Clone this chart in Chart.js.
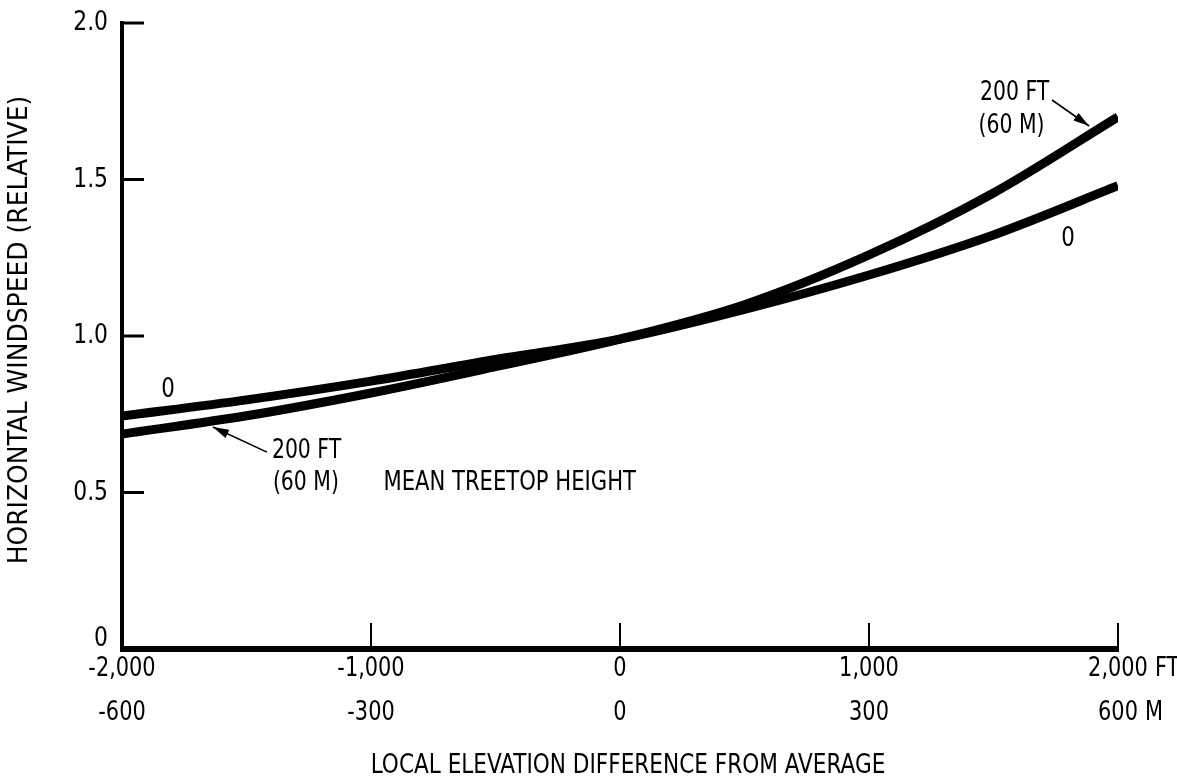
<!DOCTYPE html>
<html>
<head>
<meta charset="utf-8">
<title>Horizontal windspeed vs local elevation</title>
<script src="https://cdn.jsdelivr.net/npm/chart.js@4.4.1/dist/chart.umd.min.js"></script>
<style>
  html, body { margin: 0; padding: 0; background: #ffffff; }
  #wrap { width: 1177px; height: 779px; }
</style>
</head>
<body>
<div id="wrap"><canvas id="c" width="1177" height="779"></canvas></div>
<script>
// Local elevation difference from average (ft)
const elevationFt = [-2000, -1500, -1000, -500, 0, 500, 1000, 1500, 2000];
// Relative horizontal windspeed at ground level (height 0)
const windAtGround = [0.744, 0.796, 0.856, 0.925, 0.99, 1.085, 1.195, 1.323, 1.48];
// Relative horizontal windspeed at 200 ft (60 m), mean treetop height
const windAt200ft = [0.687, 0.745, 0.818, 0.902, 0.99, 1.10, 1.259, 1.457, 1.70];

// Axis tick values and labels
const xTickValues = [-2000, -1000, 0, 1000, 2000];
const xTickFt = ['-2,000', '-1,000', '0', '1,000', '2,000'];
const xTickM = ['-600', '-300', '0', '300', '600'];
const yTickValues = [0, 0.5, 1.0, 1.5, 2.0];
const yTickLabels = ['0', '0.5', '1.0', '1.5', '2.0'];

const FONT = '"Liberation Sans Narrow", "DejaVu Sans Condensed", "Arial Narrow", sans-serif';
const INK = '#000000';

function pts(xs, ys) { return xs.map((x, i) => ({ x: x, y: ys[i] })); }

// condensed lettering: draw text squeezed horizontally by sx
function text(ctx, s, x, y, size, align, sx) {
  sx = sx || 0.88;
  ctx.save();
  ctx.translate(x, y);
  ctx.scale(sx, 1);
  ctx.font = size + 'px ' + FONT;
  ctx.textAlign = align || 'center';
  ctx.textBaseline = 'middle';
  ctx.fillText(s, 0, 0);
  ctx.restore();
}
function textWidth(ctx, s, size, sx) {
  ctx.font = size + 'px ' + FONT;
  return ctx.measureText(s).width * (sx || 0.88);
}

function arrow(ctx, x1, y1, x2, y2) {
  ctx.beginPath();
  ctx.moveTo(x1, y1);
  ctx.lineTo(x2, y2);
  ctx.lineWidth = 1.6;
  ctx.stroke();
  const a = Math.atan2(y2 - y1, x2 - x1);
  const L = 16, W = 4.5;
  ctx.beginPath();
  ctx.moveTo(x2, y2);
  ctx.lineTo(x2 - L * Math.cos(a) + W * Math.sin(a), y2 - L * Math.sin(a) - W * Math.cos(a));
  ctx.lineTo(x2 - L * Math.cos(a) - W * Math.sin(a), y2 - L * Math.sin(a) + W * Math.cos(a));
  ctx.closePath();
  ctx.fill();
}

const frame = {
  id: 'frame',
  afterDraw(chart) {
    const ctx = chart.ctx;
    const xs = chart.scales.x, ys = chart.scales.y;
    const left = xs.getPixelForValue(-2000), right = xs.getPixelForValue(2000);
    const bottom = ys.getPixelForValue(0), top = ys.getPixelForValue(2);
    ctx.save();
    ctx.strokeStyle = INK;
    ctx.fillStyle = INK;

    // axes
    ctx.lineCap = 'butt';
    ctx.lineWidth = 4;
    ctx.beginPath(); ctx.moveTo(left, top - 2); ctx.lineTo(left, bottom + 3); ctx.stroke();
    ctx.lineWidth = 6;
    ctx.beginPath(); ctx.moveTo(left - 2, bottom); ctx.lineTo(right + 1, bottom); ctx.stroke();

    // y ticks (inward) and labels
    yTickValues.forEach((v, i) => {
      const py = ys.getPixelForValue(v);
      if (v !== 0) {
        ctx.lineWidth = 3;
        ctx.beginPath(); ctx.moveTo(left, py); ctx.lineTo(left + 22, py); ctx.stroke();
      }
      text(ctx, yTickLabels[i], left - 14, Math.min(py, bottom - 10), 27, 'right', 0.9);
    });

    // x ticks (upward) and two rows of labels
    xTickValues.forEach((v, i) => {
      const px = xs.getPixelForValue(v);
      ctx.lineWidth = 2;
      ctx.beginPath(); ctx.moveTo(px, bottom); ctx.lineTo(px, bottom - 26); ctx.stroke();
      text(ctx, xTickFt[i], px, bottom + 20, 27, 'center', 0.86);
      text(ctx, xTickM[i], px, bottom + 64, 27, 'center', 0.86);
      if (i === xTickValues.length - 1) {
        const wFt = textWidth(ctx, xTickFt[i], 27, 0.86);
        const wM = textWidth(ctx, xTickM[i], 27, 0.86);
        text(ctx, 'FT', px + wFt / 2 + 7, bottom + 20, 27, 'left', 0.86);
        text(ctx, 'M', px + wM / 2 + 7, bottom + 64, 27, 'left', 0.86);
      }
    });

    // axis titles
    text(ctx, 'LOCAL ELEVATION DIFFERENCE FROM AVERAGE', (left + right) / 2 + 8, 766, 27, 'center', 0.89);
    ctx.save();
    ctx.translate(20, 330);
    ctx.rotate(-Math.PI / 2);
    text(ctx, 'HORIZONTAL WINDSPEED (RELATIVE)', 0, 0, 27, 'center', 1.03);
    ctx.restore();

    // curve labels
    const P = (x, y) => [xs.getPixelForValue(x), ys.getPixelForValue(y)];
    let p = P(-1815, 0.827);
    text(ctx, '0', p[0], p[1], 27, 'center');
    p = P(1799, 1.31);
    text(ctx, '0', p[0], p[1], 27, 'center');

    p = P(-1398, 0.632);
    text(ctx, '200 FT', p[0], p[1], 27, 'left', 0.84);
    p = P(-1394, 0.53);
    text(ctx, '(60 M)', p[0], p[1], 27, 'left', 0.84);
    p = P(-950, 0.53);
    text(ctx, 'MEAN TREETOP HEIGHT', p[0], p[1], 27, 'left', 0.87);

    p = P(1446, 1.775);
    text(ctx, '200 FT', p[0], p[1], 27, 'left', 0.84);
    p = P(1440, 1.67);
    text(ctx, '(60 M)', p[0], p[1], 27, 'left', 0.84);

    // leader arrows
    let a = P(-1418, 0.629), b = P(-1635, 0.709);
    arrow(ctx, a[0], a[1], b[0], b[1]);
    a = P(1735, 1.754); b = P(1884, 1.671);
    arrow(ctx, a[0], a[1], b[0], b[1]);

    ctx.restore();
  }
};

const lineStyle = {
  borderColor: INK,
  borderWidth: 9,
  pointRadius: 0,
  fill: false,
  cubicInterpolationMode: 'monotone',
  borderCapStyle: 'butt',
  borderJoinStyle: 'round'
};

new Chart(document.getElementById('c'), {
  type: 'line',
  data: {
    datasets: [
      Object.assign({ label: '0', data: pts(elevationFt, windAtGround) }, lineStyle),
      Object.assign({ label: '200 FT (60 M)', data: pts(elevationFt, windAt200ft) }, lineStyle)
    ]
  },
  options: {
    responsive: false,
    animation: false,
    devicePixelRatio: 1,
    layout: { padding: { left: 122, right: 59, top: 23, bottom: 130 } },
    plugins: { legend: { display: false }, tooltip: { enabled: false } },
    scales: {
      x: { type: 'linear', min: -2000, max: 2000, display: false },
      y: { type: 'linear', min: 0, max: 2, display: false }
    }
  },
  plugins: [frame]
});
</script>
</body>
</html>
